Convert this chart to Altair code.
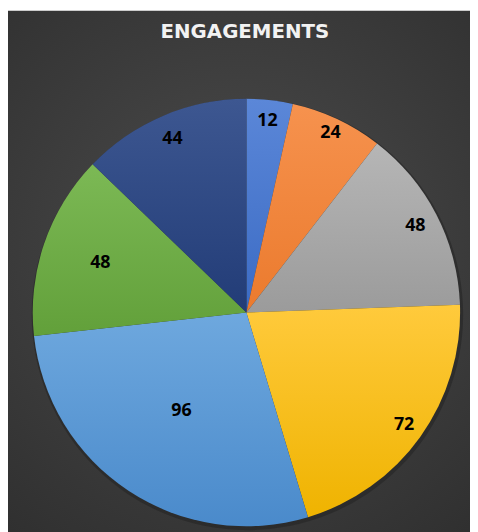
import altair as alt
import pandas as pd

# ---- data ----
title_text = "ENGAGEMENTS"
values = [12, 24, 48, 72, 96, 48, 44]
labels = ["12", "24", "48", "72", "96", "48", "44"]

# ---- styles (top / bottom gradient colours per slice) ----
top_colors = ["#5b87d8", "#f6924e", "#b6b6b6", "#ffca3c", "#6ea8de", "#7cb955", "#3d5791"]
bottom_colors = ["#3b6bc4", "#eb7a2d", "#9b9b9b", "#efb300", "#4a8acb", "#62a03a", "#223c77"]
label_radius = [195, 200, 192, 196, 119, 156, 191]

W, H = 467, 528
CX, CY = 241, 305
R = 216
TOTAL = sum(values)

df = pd.DataFrame({"idx": list(range(len(values))), "value": values, "label": labels})

base = alt.Chart(df).transform_window(
    end="sum(value)", sort=[alt.SortField("idx")], frame=[None, 0]
).transform_calculate(
    start="datum.end - datum.value", mid="datum.end - datum.value/2"
)

theta_scale = alt.Scale(domain=[0, TOTAL], range=[0, 6.283185307179586])

bg = alt.Chart(alt.Data(values=[{"a": 1}])).mark_rect(
    color={
        "gradient": "radial",
        "x1": 0.5, "y1": 0.45, "r1": 0,
        "x2": 0.5, "y2": 0.45, "r2": 0.75,
        "stops": [
            {"offset": 0, "color": "#4c4c4c"},
            {"offset": 1, "color": "#2e2e2e"},
        ],
    }
).encode(x=alt.value(0), x2=alt.value(W), y=alt.value(0), y2=alt.value(H))

shadow = alt.Chart(alt.Data(values=[{"s": 0, "e": TOTAL}])).mark_arc(
    outerRadius=R + 2, color="#1e1e1e", opacity=0.45
).encode(
    theta=alt.Theta("s:Q", scale=theta_scale, stack=False),
    theta2="e:Q",
    x=alt.value(CX + 1), y=alt.value(CY + 2),
)

layers = [bg, shadow]
for i in range(len(values)):
    layers.append(
        base.transform_filter(alt.datum.idx == i).mark_arc(
            outerRadius=R,
            color={
                "gradient": "linear",
                "x1": 0, "y1": 0, "x2": 0, "y2": 1,
                "stops": [
                    {"offset": 0, "color": top_colors[i]},
                    {"offset": 1, "color": bottom_colors[i]},
                ],
            },
        ).encode(
            theta=alt.Theta("start:Q", scale=theta_scale, stack=False),
            theta2="end:Q",
            x=alt.value(CX), y=alt.value(CY),
        )
    )
for i in range(len(values)):
    layers.append(
        base.transform_filter(alt.datum.idx == i).mark_text(
            radius=label_radius[i], font="Open Sans", fontWeight="bold",
            fontSize=18, color="#000000", baseline="middle", align="center",
        ).encode(
            theta=alt.Theta("mid:Q", scale=theta_scale, stack=False),
            text="label:N",
            x=alt.value(CX), y=alt.value(CY),
        )
    )

title = alt.Chart(alt.Data(values=[{"t": title_text}])).mark_text(
    font="DejaVu Sans", fontWeight="bold", fontSize=20, color="#f2f2f2",
    baseline="middle", align="center",
).encode(text="t:N", x=alt.value(239.5), y=alt.value(21))
layers.append(title)

chart = alt.layer(*layers).properties(
    width=W, height=H, padding=0, autosize=alt.AutoSizeParams(type="none")
).configure_view(stroke=None)

chart.save("out.html", embed_options={"renderer": "svg", "actions": False})
